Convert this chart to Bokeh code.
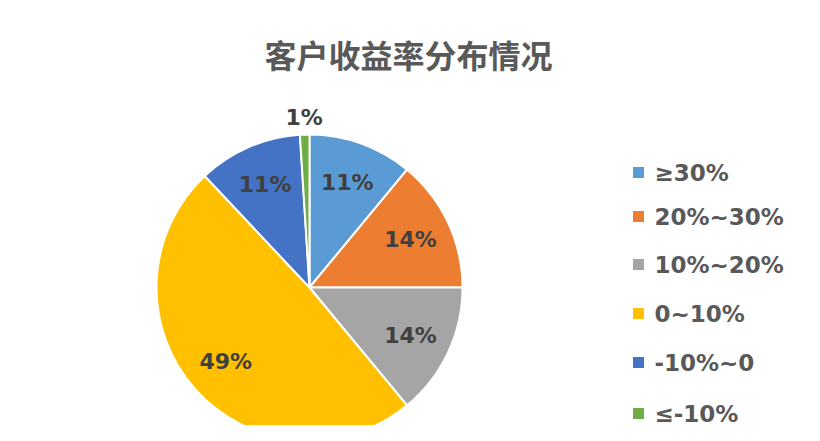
import math
from bokeh.plotting import figure
from bokeh.models import Range1d, ColumnDataSource
from bokeh.core.properties import value
from bokeh.embed import file_html
from bokeh.resources import INLINE

title = "客户收益率分布情况"
categories = ["≥30%", "20%~30%", "10%~20%", "0~10%", "-10%~0", "≤-10%"]
shares = [11, 14, 14, 49, 11, 1]
colors = ["#5B9BD5", "#ED7D31", "#A5A5A5", "#FFC000", "#4472C4", "#70AD47"]

W, H = 804, 425
FONT = "Noto Sans CJK SC"
LFONT = "DejaVu Sans"

p = figure(width=W, height=H, output_backend="svg", toolbar_location=None,
           x_range=Range1d(0, W), y_range=Range1d(441 - H, 441),
           min_border=0, outline_line_color=None)
p.axis.visible = False
p.grid.visible = False
p.background_fill_color = "white"
p.border_fill_color = "white"

cx, cy, R = 309, 441 - 287, 153
total = sum(shares)
starts, ends, lx, ly, labels = [], [], [], [], []
cum = 0
for s in shares:
    a0 = math.pi / 2 - 2 * math.pi * cum / total
    cum += s
    a1 = math.pi / 2 - 2 * math.pi * cum / total
    starts.append(a0)
    ends.append(a1)
    mid = (a0 + a1) / 2
    rr = 0.73 * R if s >= 5 else 1.11 * R
    lx.append(cx + rr * math.cos(mid))
    ly.append(cy + rr * math.sin(mid))
    labels.append(f"{s}%")

src = ColumnDataSource(dict(start=starts, end=ends, color=colors))
p.wedge(x=cx, y=cy, radius=R, start_angle="start", end_angle="end",
        direction="clock", fill_color="color", line_color="white",
        line_width=2, source=src)

p.text(x=lx, y=ly, text=labels, text_align="center", text_baseline="middle",
       text_font=value(LFONT), text_font_size="22px", text_font_style="bold",
       text_color="#404040")

# title
p.text(x=[408], y=[441 - 53], text=[title], text_align="center",
       text_baseline="middle", text_font=value(FONT), text_font_size="32px",
       text_font_style="bold", text_color="#595959")

# legend
leg_y = [441 - v for v in [172, 216, 264, 313, 362, 413]]
p.rect(x=[638] * len(categories), y=leg_y, width=11, height=11,
       fill_color=colors, line_color=None)
p.text(x=[654] * len(categories), y=leg_y, text=categories,
       text_align="left", text_baseline="middle", text_font=value(LFONT),
       text_font_size="23px", text_font_style="bold", text_color="#595959")

open("out.html", "w").write(file_html(p, INLINE))
